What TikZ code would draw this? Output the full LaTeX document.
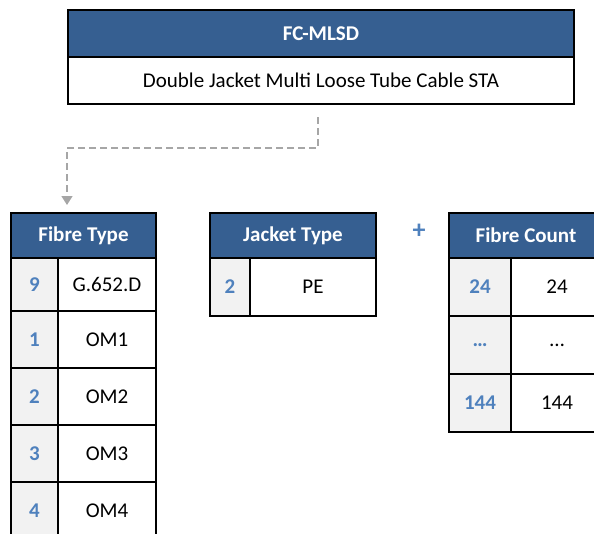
\documentclass[tikz,border=0pt]{standalone}
\usepackage{fontspec}
\setmainfont{Carlito}
\usepackage{xcolor}
\usepackage{tikz}
\usetikzlibrary{arrows.meta}
\definecolor{headblue}{RGB}{54,95,145}
\definecolor{idxblue}{RGB}{79,129,189}
\definecolor{idxgray}{RGB}{242,242,242}
\definecolor{conngray}{RGB}{166,166,166}
\tikzset{
  txt/.style={font=\fontsize{21}{24}\selectfont},
  head/.style={draw, line width=1.5pt, fill=headblue, text=white, inner sep=0pt, outer sep=0pt,
    font=\fontsize{21}{24}\selectfont\bfseries, anchor=north west},
  cell/.style={draw, line width=1.5pt, fill=white, inner sep=0pt, outer sep=0pt, txt, anchor=north west},
  idx/.style={cell, fill=idxgray, text=idxblue, font=\fontsize{21}{24}\selectfont\bfseries},
  conn/.style={draw=conngray, line width=1.5pt, dash pattern=on 7pt off 4pt,
    -{Triangle[length=9pt,width=11pt]}}
}
\begin{document}
\begin{tikzpicture}[x=1pt,y=-1pt]
\clip (0,0) rectangle (594,533);
% top
\node[head, minimum width=506pt, minimum height=47pt] (code) at (68,10) {FC-MLSD};
\node[cell, minimum width=506pt, minimum height=47pt] (desc) at (code.south west) {Double Jacket Multi Loose Tube Cable STA};
% fibre type
\node[head, minimum width=145pt, minimum height=45pt] (ft) at (11,213) {Fibre Type};
\node[idx, minimum width=47pt, minimum height=53pt] (ft9) at (ft.south west) {9};
\node[cell, minimum width=98pt, minimum height=53pt] (ft9v) at (ft9.north east) {G.652.D};
\node[idx, minimum width=47pt, minimum height=57pt] (ft1) at (ft9.south west) {1};
\node[cell, minimum width=98pt, minimum height=57pt] (ft1v) at (ft1.north east) {OM1};
\node[idx, minimum width=47pt, minimum height=57pt] (ft2) at (ft1.south west) {2};
\node[cell, minimum width=98pt, minimum height=57pt] (ft2v) at (ft2.north east) {OM2};
\node[idx, minimum width=47pt, minimum height=57pt] (ft3) at (ft2.south west) {3};
\node[cell, minimum width=98pt, minimum height=57pt] (ft3v) at (ft3.north east) {OM3};
\node[idx, minimum width=47pt, minimum height=57pt] (ft4) at (ft3.south west) {4};
\node[cell, minimum width=98pt, minimum height=57pt] (ft4v) at (ft4.north east) {OM4};
% jacket type
\node[head, minimum width=166pt, minimum height=45pt] (jt) at (210,213) {Jacket Type};
\node[idx, minimum width=40pt, minimum height=58pt] (jt2) at (jt.south west) {2};
\node[cell, minimum width=126pt, minimum height=58pt] (jt2v) at (jt2.north east) {PE};
% fibre count
\node[txt, text=idxblue, font=\fontsize{26}{28}\selectfont\bfseries] (plus) at (419,231) {+};
\node[head, minimum width=154pt, minimum height=45pt] (fc) at (449,213) {Fibre Count};
\node[idx, minimum width=62pt, minimum height=58pt] (fc24) at (fc.south west) {24};
\node[cell, minimum width=92pt, minimum height=58pt] (fc24v) at (fc24.north east) {24};
\node[idx, minimum width=62pt, minimum height=58pt] (fcdots) at (fc24.south west) {…};
\node[cell, minimum width=92pt, minimum height=58pt] (fcdotsv) at (fcdots.north east) {…};
\node[idx, minimum width=62pt, minimum height=58pt] (fc144) at (fcdots.south west) {144};
\node[cell, minimum width=92pt, minimum height=58pt] (fc144v) at (fc144.north east) {144};
% link
\draw[conn, shorten <=13pt, shorten >=8pt] ([xshift=-3pt]desc.south) -- ++(0,44) -| ([xshift=-16.5pt]ft.north);
\end{tikzpicture}
\end{document}
